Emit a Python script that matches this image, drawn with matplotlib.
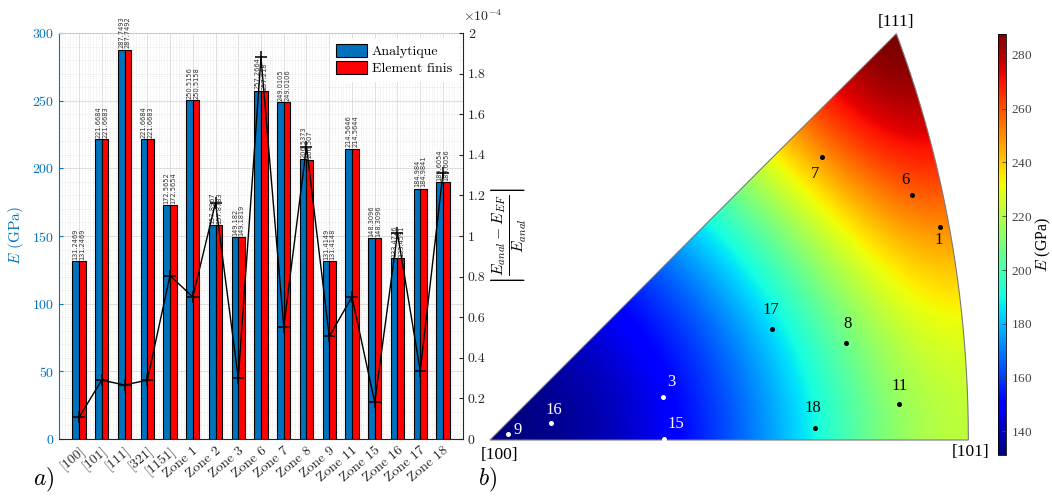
import numpy as np
import matplotlib
matplotlib.use('Agg')
import matplotlib.pyplot as plt
from matplotlib.path import Path
from matplotlib.patches import PathPatch
from matplotlib.ticker import MultipleLocator, FuncFormatter

plt.rcParams['mathtext.fontset'] = 'cm'
plt.rcParams['font.family'] = 'cmr10'
plt.rcParams['axes.formatter.use_mathtext'] = True

# ---- data, panel a)
cats = ['[100]', '[101]', '[111]', '[321]', '[1151]', 'Zone 1', 'Zone 2', 'Zone 3',
        'Zone 6', 'Zone 7', 'Zone 8', 'Zone 9', 'Zone 11', 'Zone 15', 'Zone 16',
        'Zone 17', 'Zone 18']
E_anal = [131.2469, 221.6684, 287.7493, 221.6684, 172.5652, 250.5156, 157.8967, 149.182,
          257.2664, 249.0105, 206.5373, 131.4149, 214.5646, 148.3096, 133.4726, 184.984,
          189.6054]
E_ef = [131.2469, 221.6683, 287.7492, 221.6683, 172.5654, 250.5158, 157.8783, 149.1819,
        257.2180, 249.0106, 206.507, 131.4148, 214.5644, 148.3096, 133.4591, 184.9841,
        189.6056]
# relative error, in units of 1e-4
err = [0.107, 0.29, 0.266, 0.29, 0.805, 0.70, 1.164, 0.299, 1.88, 0.553, 1.44, 0.505,
       0.70, 0.18, 1.013, 0.336, 1.31]

# ---- data, panel b) (equal-area projection coordinates, pole [100])
zone_lbl = ['1', '3', '6', '7', '8', '9', '11', '15', '16', '17', '18']
zone_x = [0.720, 0.277, 0.675, 0.531, 0.569, 0.028, 0.655, 0.279, 0.098, 0.451, 0.520]
zone_y = [0.341, 0.069, 0.392, 0.453, 0.156, 0.009, 0.058, 0.001, 0.028, 0.178, 0.020]
zone_col = ['k', 'w', 'k', 'k', 'k', 'w', 'k', 'w', 'w', 'k', 'k']
zone_off = [(-1, -13), (8, 15), (-6, 15), (-7, -17), (2, 19), (10, 4), (0, 18),
            (11, 15), (3, 13), (-1, 19), (-2, 19)]

blue = '#0072BD'
W, H = 1052, 497
fig = plt.figure(figsize=(W / 100, H / 100), dpi=100)

# ================= panel a
ax = fig.add_axes([59 / W, 1 - 439 / H, 404 / W, 406 / H])
x = np.arange(1, len(cats) + 1)
bw = 0.29
ax.bar(x - bw / 2, E_anal, bw, color=blue, edgecolor='k', lw=0.8, zorder=3, label='Analytique')
ax.bar(x + bw / 2, E_ef, bw, color='#FF0000', edgecolor='k', lw=0.8, zorder=3, label='Element finis')


def fmt(v):
    return ('%.4f' % v).rstrip('0').rstrip('.')


for xi, a, b in zip(x, E_anal, E_ef):
    ax.text(xi - bw / 2, a + 1, fmt(a), rotation=90, ha='center', va='bottom',
            fontsize=4.8, family='DejaVu Sans', color='#333333', zorder=4)
    ax.text(xi + bw / 2, b + 1, fmt(b), rotation=90, ha='center', va='bottom',
            fontsize=4.8, family='DejaVu Sans', color='#333333', zorder=4)

ax.set_xlim(0.12, 17.88)
ax.set_ylim(0, 300)
ax.set_xticks(x)
ax.set_xticklabels(cats, rotation=40, ha='right', rotation_mode='anchor', fontsize=10)
ax.yaxis.set_major_locator(MultipleLocator(50))
ax.yaxis.set_minor_locator(MultipleLocator(10))
ax.xaxis.set_minor_locator(MultipleLocator(0.125))
ax.grid(which='major', color='#d8d8d8', lw=0.6, zorder=0)
ax.grid(which='minor', color='#dedede', lw=0.5, ls=':', zorder=0)
ax.set_axisbelow(True)
ax.tick_params(axis='y', colors=blue, labelsize=10, direction='in', length=3)
ax.tick_params(axis='y', which='minor', length=0)
ax.tick_params(axis='x', which='both', length=0, pad=4, labelcolor='#262626')
ax.set_ylabel(r'$E$ (GPa)', color=blue, fontsize=11)
ax.spines['left'].set_color(blue)
ax.spines['top'].set_color('#b8cfe4')
ax.spines['right'].set_visible(False)
ax.spines['bottom'].set_color('#262626')
ax.legend(loc='upper right', prop={'family': 'cmr10', 'size': 10}, frameon=True,
          edgecolor='white', framealpha=1, fancybox=False, borderaxespad=0.4,
          handlelength=2.3, handleheight=1.1, handletextpad=0.3, labelspacing=0.15)

ax2 = ax.twinx()
ax2.plot(x, np.array(err) * 1e-4, color='k', marker='+', ms=9, mew=1.1, lw=1.0)
ax2.set_ylim(0, 2e-4)
ax2.set_yticks(np.arange(0, 2.01e-4, 0.2e-4))
ax2.yaxis.set_major_formatter(FuncFormatter(lambda v, p: '%g' % round(v * 1e4, 3)))
ax2.tick_params(axis='y', labelsize=10, direction='in', length=3, colors='#262626')
for s in ['left', 'top', 'bottom']:
    ax2.spines[s].set_visible(False)
ax2.spines['right'].set_color('#262626')
ax2.text(1.0, 1.022, r'$\times 10^{-4}$', transform=ax2.transAxes, fontsize=10,
         ha='left', va='bottom', color='#262626')
ax2.set_ylabel(r'$\left|\frac{E_{anal}-E_{EF}}{E_{anal}}\right|$', fontsize=16, labelpad=2)

fig.text(33 / W, 1 - 494 / H, r'$a)$', fontsize=17, va='bottom')

# ================= panel b
axt = fig.add_axes([477.5 / W, 1 - 490 / H, 512.5 / W, 475 / H])
axt.set_xlim(-0.02, 0.80)
axt.set_ylim(-0.08, 0.68)
axt.axis('off')


def proj(h, k, l):
    n = np.sqrt(h * h + k * k + l * l)
    u, v, w = h / n, k / n, l / n
    r = np.sqrt(2 * (1 - u))
    s = np.sqrt(v * v + w * w)
    s = np.where(s == 0, 1, s)
    return r * w / s, r * v / s


E100, E111 = E_anal[0], E_anal[2]
gx, gy = np.meshgrid(np.linspace(0, 0.78, 700), np.linspace(0, 0.66, 600))
rr = np.sqrt(gx ** 2 + gy ** 2) + 1e-12
uu = 1 - rr ** 2 / 2
st = np.sqrt(np.clip(1 - uu ** 2, 0, None))
ww = st * gx / rr
vv = st * gy / rr
gam = uu ** 2 * vv ** 2 + vv ** 2 * ww ** 2 + ww ** 2 * uu ** 2
Emap = 1 / (1 / E100 - 3 * (1 / E100 - 1 / E111) * gam)

t = np.linspace(0, 1, 200)
ax_, ay_ = proj(np.ones_like(t), t, np.ones_like(t))
bx = np.concatenate([[0], ax_, [0]])
by = np.concatenate([[0], ay_, [0]])
path = Path(np.column_stack([bx, by]))
patch = PathPatch(path, facecolor='none', edgecolor='#7a7a7a', lw=0.8, zorder=3)
axt.add_patch(patch)
im = axt.imshow(Emap, extent=(0, 0.78, 0, 0.66), origin='lower', cmap='jet',
                vmin=E100, vmax=E111, interpolation='bilinear', aspect='auto', zorder=1)
im.set_clip_path(patch)

sfont = 'Liberation Serif'
for lb, zx, zy, c, off in zip(zone_lbl, zone_x, zone_y, zone_col, zone_off):
    axt.scatter([zx], [zy], s=13, color=c, zorder=4, linewidths=0)
    axt.annotate(lb, (zx, zy), xytext=(off[0] * 0.72, off[1] * 0.72), textcoords='offset points',
                 ha='center', va='center', color=c, fontsize=12, family=sfont, zorder=5)

for lb, (h, k, l), off in zip(['[100]', '[101]', '[111]'],
                              [(1, 0, 0), (1, 0, 1), (1, 1, 1)],
                              [(10, -15), (2, -12), (0, 12)]):
    cx, cy = proj(h, k, l)
    axt.annotate(lb, (float(cx), float(cy)), xytext=(off[0] * 0.72, off[1] * 0.72),
                 textcoords='offset points', ha='center', va='center', fontsize=12.5,
                 family=sfont, annotation_clip=False)

cax = fig.add_axes([998 / W, 1 - 455 / H, 8 / W, 421 / H])
cb = fig.colorbar(im, cax=cax, ticks=np.arange(140, 281, 20))
cb.outline.set_linewidth(0.6)
cax.tick_params(direction='in', length=3, labelsize=9.5, colors='#444444', width=0.6)
for tl in cax.get_yticklabels():
    tl.set_family(sfont)
cb.set_label(r'$E$ (GPa)', family=sfont, fontsize=11.5, labelpad=1)

fig.text(478 / W, 1 - 494 / H, r'$b)$', fontsize=17, va='bottom')

fig.savefig('out.png', dpi=100)
